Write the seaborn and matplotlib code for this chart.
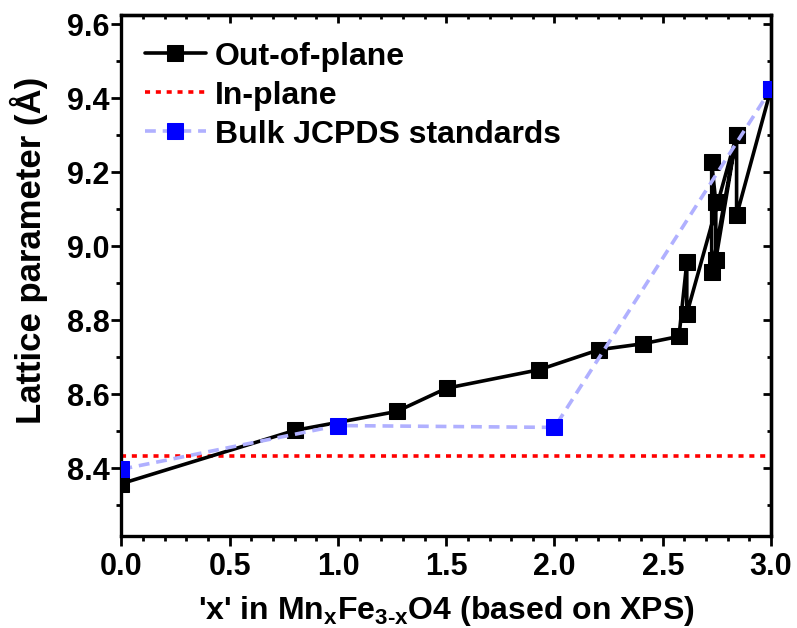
import matplotlib
matplotlib.use("Agg")
import matplotlib.pyplot as plt
from matplotlib.ticker import MultipleLocator, FormatStrFormatter
import seaborn as sns

# Out-of-plane lattice parameter, listed in measurement order
oop_x = [0.0, 0.801, 1.271, 1.502, 1.930, 2.206, 2.407, 2.575, 2.611, 2.611,
         2.841, 2.726, 2.726, 2.745, 2.745, 2.841, 2.841, 3.0]
oop_y = [8.358, 8.502, 8.553, 8.616, 8.666, 8.720, 8.736, 8.756, 8.956, 8.817,
         9.300, 8.930, 9.226, 9.118, 8.963, 9.300, 9.083, 9.425]

# In-plane lattice parameter (constant over composition)
inplane_x = [0.0, 3.0]
inplane_val = 8.434

# Bulk JCPDS reference values
bulk_x = [0.0, 1.0, 2.0, 3.0]
bulk_y = [8.397, 8.515, 8.510, 9.425]

sns.set_style("ticks")
plt.rcParams["font.family"] = ["Liberation Sans", "DejaVu Sans"]
plt.rcParams["font.weight"] = "bold"
plt.rcParams["text.color"] = "black"
plt.rcParams["axes.labelcolor"] = "black"
plt.rcParams["xtick.color"] = "black"
plt.rcParams["ytick.color"] = "black"
plt.rcParams["mathtext.fontset"] = "custom"
plt.rcParams["mathtext.rm"] = "Liberation Sans:bold"
plt.rcParams["mathtext.it"] = "Liberation Sans:bold"
plt.rcParams["mathtext.bf"] = "Liberation Sans:bold"
plt.rcParams["mathtext.default"] = "rm"

TICK_FS = 22
LEG_FS = 23
XLAB_FS = 23
YLAB_FS = 25

fig = plt.figure(figsize=(7.97, 6.28), dpi=100)
ax = fig.add_axes([0.1524, 0.1468, 0.8150, 0.8301])

sns.lineplot(x=oop_x, y=oop_y, ax=ax, sort=False, estimator=None,
             color="black", lw=2.6, marker="s", markersize=11,
             markeredgecolor="black", markerfacecolor="black",
             label="Out-of-plane", zorder=3)
sns.lineplot(x=inplane_x, y=[inplane_val] * len(inplane_x), ax=ax,
             sort=False, estimator=None, color="red", lw=2.6,
             linestyle=(0, (1.4, 1.6)), label="In-plane", zorder=2)
sns.lineplot(x=bulk_x, y=bulk_y, ax=ax, sort=False, estimator=None,
             color="#b0b0ff", lw=2.6, linestyle=(0, (3.0, 1.9)),
             marker="s", markersize=11, markerfacecolor="#0000ff",
             markeredgecolor="#0000ff", label="Bulk JCPDS standards",
             zorder=4)

ax.set_xlim(0.0, 3.0)
ax.set_ylim(8.217, 9.626)
ax.xaxis.set_major_locator(MultipleLocator(0.5))
ax.xaxis.set_minor_locator(MultipleLocator(0.1))
ax.yaxis.set_major_locator(MultipleLocator(0.2))
ax.yaxis.set_minor_locator(MultipleLocator(0.1))
ax.xaxis.set_major_formatter(FormatStrFormatter("%.1f"))
ax.yaxis.set_major_formatter(FormatStrFormatter("%.1f"))

for s in ax.spines.values():
    s.set_linewidth(2.4)
    s.set_color("black")
    s.set_visible(True)

ax.tick_params(axis="x", which="major", direction="out", length=7,
               width=2.0, labelsize=TICK_FS, pad=5)
ax.tick_params(axis="y", which="major", direction="out", length=7,
               width=2.0, labelsize=TICK_FS, pad=1.5)
ax.tick_params(axis="both", which="minor", direction="out", length=3.5,
               width=2.0)

# Mirror ticks on the top and right frame, pointing inward
axt = ax.secondary_xaxis("top")
axt.xaxis.set_major_locator(MultipleLocator(0.5))
axt.xaxis.set_minor_locator(MultipleLocator(0.1))
axt.tick_params(which="major", direction="in", length=6, width=2.0,
                labeltop=False)
axt.tick_params(which="minor", direction="in", length=3, width=2.0)
axt.spines["top"].set_linewidth(2.4)
axr = ax.secondary_yaxis("right")
axr.yaxis.set_major_locator(MultipleLocator(0.2))
axr.yaxis.set_minor_locator(MultipleLocator(0.1))
axr.tick_params(which="major", direction="in", length=6, width=2.0,
                labelright=False)
axr.tick_params(which="minor", direction="in", length=3, width=2.0)
axr.spines["right"].set_linewidth(2.4)

for lab in ax.get_xticklabels() + ax.get_yticklabels():
    lab.set_fontweight("bold")

ax.set_xlabel(r"'x' in Mn$_{\mathregular{x}}$Fe$_{\mathregular{3\text{-}x}}$O4 (based on XPS)",
              fontsize=XLAB_FS, fontweight="bold", labelpad=8)
ax.set_ylabel("Lattice parameter (Å)", fontsize=YLAB_FS, fontweight="bold")
ax.yaxis.set_label_coords(-0.113, 0.548)

leg = ax.legend(loc="upper left", bbox_to_anchor=(0.036, 0.948),
                borderaxespad=0, borderpad=0, frameon=False,
                handlelength=1.9, handletextpad=0.3, labelspacing=0.28,
                prop={"size": LEG_FS, "weight": "bold"})

fig.savefig("out.png", dpi=100)
